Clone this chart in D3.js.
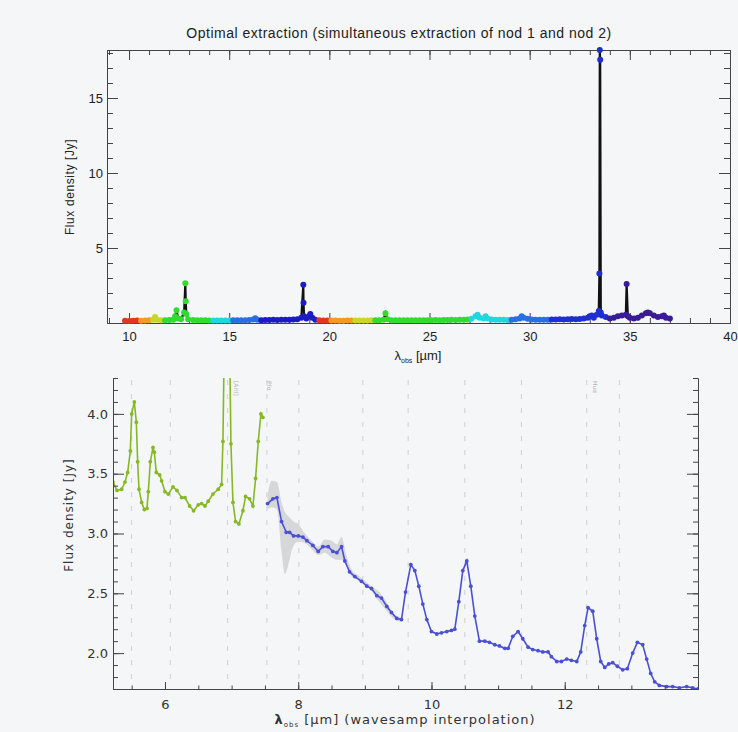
<!DOCTYPE html>
<html>
<head>
<meta charset="utf-8">
<script src="https://cdn.jsdelivr.net/npm/d3@7"></script>
<style>
  body { margin: 0; background: #f5f6f8; }
  svg { display: block; }
  .topax text { font-family: "Liberation Sans", Arial, sans-serif; font-size: 13px; fill: #222; }
  .botax text { font-family: "DejaVu Sans", sans-serif; font-size: 13px; fill: #333; }
  .ax path, .ax line { stroke: #444; stroke-width: 1; }
</style>
</head>
<body>
<svg id="chart"></svg>
<script>
// ---- top panel: high-res spectrum (order colours) ----
const topLam = [9.8, 10.0, 10.2, 10.4, 10.6, 10.8, 11.0, 11.2, 11.3, 11.4, 11.6, 11.8, 12.0, 12.2, 12.3, 12.37, 12.45, 12.6, 12.75, 12.81, 12.83, 12.86, 12.95, 13.2, 13.4, 13.6, 13.8, 14.0, 14.2, 14.4, 14.6, 14.8, 15.0, 15.2, 15.4, 15.6, 15.8, 16.0, 16.2, 16.3, 16.4, 16.6, 16.8, 17.0, 17.2, 17.4, 17.6, 17.8, 18.0, 18.2, 18.4, 18.6, 18.7, 18.71, 18.74, 18.85, 19.0, 19.05, 19.15, 19.3, 19.5, 19.7, 19.9, 20.1, 20.3, 20.5, 20.7, 20.9, 21.1, 21.3, 21.5, 21.7, 21.9, 22.1, 22.3, 22.5, 22.7, 22.8, 22.9, 23.1, 23.3, 23.5, 23.7, 23.9, 24.1, 24.3, 24.5, 24.7, 24.9, 25.1, 25.3, 25.5, 25.7, 25.9, 26.1, 26.3, 26.5, 26.7, 26.9, 27.1, 27.3, 27.4, 27.5, 27.7, 27.8, 27.9, 28.1, 28.3, 28.5, 28.7, 28.9, 29.1, 29.3, 29.5, 29.6, 29.7, 29.9, 30.1, 30.3, 30.5, 30.7, 30.9, 31.1, 31.3, 31.5, 31.7, 31.9, 32.1, 32.3, 32.5, 32.7, 32.9, 33.0, 33.1, 33.2, 33.35, 33.45, 33.48, 33.5, 33.52, 33.55, 33.6, 33.8, 34.0, 34.2, 34.4, 34.6, 34.8, 34.84, 34.9, 35.0, 35.2, 35.4, 35.6, 35.8, 35.9, 36.0, 36.2, 36.4, 36.6, 36.7, 36.8, 37.0];
const topFlux = [0.15, 0.14, 0.15, 0.16, 0.15, 0.17, 0.18, 0.22, 0.40, 0.22, 0.18, 0.19, 0.20, 0.22, 0.45, 0.85, 0.30, 0.25, 0.70, 2.65, 1.45, 0.60, 0.25, 0.20, 0.19, 0.18, 0.18, 0.17, 0.17, 0.16, 0.16, 0.17, 0.17, 0.18, 0.18, 0.19, 0.18, 0.20, 0.24, 0.32, 0.22, 0.19, 0.20, 0.20, 0.21, 0.20, 0.21, 0.22, 0.22, 0.23, 0.25, 0.35, 2.55, 1.35, 0.45, 0.30, 0.45, 0.60, 0.35, 0.22, 0.18, 0.17, 0.17, 0.16, 0.16, 0.15, 0.15, 0.16, 0.16, 0.16, 0.17, 0.17, 0.17, 0.18, 0.18, 0.19, 0.22, 0.65, 0.25, 0.19, 0.18, 0.18, 0.19, 0.18, 0.18, 0.18, 0.19, 0.19, 0.18, 0.19, 0.20, 0.19, 0.20, 0.20, 0.21, 0.20, 0.21, 0.22, 0.24, 0.28, 0.45, 0.55, 0.35, 0.30, 0.45, 0.30, 0.24, 0.22, 0.22, 0.21, 0.20, 0.22, 0.25, 0.30, 0.45, 0.35, 0.28, 0.24, 0.22, 0.22, 0.21, 0.22, 0.23, 0.24, 0.25, 0.24, 0.25, 0.26, 0.25, 0.27, 0.30, 0.35, 0.45, 0.50, 0.35, 0.55, 0.80, 3.30, 18.2, 17.55, 0.70, 0.50, 0.40, 0.30, 0.35, 0.45, 0.50, 0.55, 2.60, 0.45, 0.35, 0.30, 0.35, 0.50, 0.65, 0.70, 0.65, 0.50, 0.40, 0.45, 0.50, 0.35, 0.30];
const orderEdges = [9.7, 10.6, 11.1, 11.7, 14.2, 15.2, 16.6, 19.4, 20.1, 21.2, 22.2, 27.05, 29.0, 31.0, 33.9, 37.1];
const orderColors = ['#e2371f', '#f29a22', '#c9d62a', '#2fdc2f', '#22d6e0', '#2a6ee6', '#1c1cc4',
  '#e2371f', '#f29a22', '#c9d62a', '#2fdc2f', '#22d6e0', '#2a6ee6', '#1e2ed2', '#3a1a98'];

// ---- bottom panel: low-res spectrum ----
const greenLam = [5.22, 5.28, 5.35, 5.40, 5.44, 5.48, 5.50, 5.54, 5.57, 5.59, 5.61, 5.65, 5.69, 5.73, 5.75, 5.78, 5.82, 5.84, 5.87, 5.92, 5.95, 6.00, 6.05, 6.12, 6.18, 6.25, 6.30, 6.37, 6.43, 6.50, 6.55, 6.60, 6.65, 6.72, 6.80, 6.85, 6.87, 6.89, 6.93, 6.97, 6.99, 7.02, 7.06, 7.11, 7.17, 7.21, 7.27, 7.32, 7.36, 7.40, 7.44, 7.47];
const greenFlux = [3.43, 3.36, 3.37, 3.43, 3.51, 3.69, 4.00, 4.10, 3.93, 3.60, 3.37, 3.26, 3.20, 3.21, 3.35, 3.60, 3.72, 3.68, 3.51, 3.49, 3.44, 3.35, 3.33, 3.39, 3.36, 3.30, 3.30, 3.23, 3.19, 3.24, 3.25, 3.23, 3.27, 3.33, 3.37, 3.41, 3.77, 4.60, 5.20, 4.60, 3.75, 3.26, 3.10, 3.08, 3.19, 3.31, 3.29, 3.23, 3.46, 3.77, 4.00, 3.97];
const blueLam = [7.54, 7.62, 7.68, 7.75, 7.82, 7.87, 7.93, 8.00, 8.07, 8.13, 8.22, 8.30, 8.37, 8.45, 8.52, 8.58, 8.65, 8.70, 8.77, 8.85, 8.95, 9.03, 9.10, 9.18, 9.25, 9.33, 9.40, 9.48, 9.55, 9.61, 9.69, 9.75, 9.81, 9.87, 9.93, 10.00, 10.08, 10.15, 10.23, 10.30, 10.35, 10.41, 10.47, 10.53, 10.59, 10.65, 10.72, 10.80, 10.87, 10.95, 11.02, 11.10, 11.15, 11.22, 11.30, 11.37, 11.45, 11.52, 11.60, 11.67, 11.75, 11.80, 11.88, 11.95, 12.03, 12.10, 12.18, 12.24, 12.30, 12.35, 12.42, 12.48, 12.54, 12.60, 12.66, 12.72, 12.79, 12.87, 12.94, 13.02, 13.09, 13.17, 13.23, 13.29, 13.35, 13.42, 13.53, 13.62, 13.72, 13.83, 13.92, 14.00];
const blueFlux = [3.25, 3.29, 3.30, 3.10, 3.01, 3.01, 2.98, 2.98, 2.97, 2.94, 2.90, 2.85, 2.89, 2.89, 2.85, 2.84, 2.89, 2.77, 2.68, 2.64, 2.60, 2.56, 2.54, 2.48, 2.46, 2.39, 2.34, 2.29, 2.28, 2.51, 2.74, 2.69, 2.56, 2.41, 2.28, 2.18, 2.16, 2.17, 2.18, 2.19, 2.20, 2.43, 2.69, 2.77, 2.56, 2.31, 2.10, 2.10, 2.09, 2.07, 2.06, 2.04, 2.04, 2.14, 2.18, 2.12, 2.05, 2.03, 2.02, 2.01, 2.01, 1.97, 1.93, 1.93, 1.95, 1.94, 1.93, 2.01, 2.23, 2.38, 2.35, 2.12, 1.93, 1.88, 1.91, 1.92, 1.89, 1.86, 1.87, 2.00, 2.09, 2.07, 1.95, 1.83, 1.76, 1.73, 1.72, 1.72, 1.71, 1.72, 1.71, 1.70];
const bandLam = [7.54, 7.60, 7.68, 7.75, 7.80, 7.86, 7.93, 8.00, 8.10, 8.20, 8.30, 8.40, 8.50, 8.58, 8.65, 8.72, 8.80, 8.90, 9.10, 9.20, 9.30, 9.45, 9.55];
const bandLo = [3.20, 3.22, 3.20, 2.85, 2.66, 2.76, 2.90, 2.93, 2.92, 2.87, 2.82, 2.84, 2.80, 2.78, 2.78, 2.73, 2.64, 2.61, 2.52, 2.44, 2.37, 2.28, 2.26];
const bandHi = [3.32, 3.44, 3.43, 3.26, 3.18, 3.14, 3.10, 3.08, 3.00, 2.94, 2.89, 2.95, 2.94, 2.91, 2.97, 2.82, 2.70, 2.65, 2.56, 2.52, 2.45, 2.32, 2.30];
const featureLam = [5.50, 6.08, 6.94, 7.53, 8.01, 8.97, 9.65, 10.50, 11.35, 12.33, 12.82];

const width = 738, height = 732;
const svg = d3.select('#chart').attr('width', width).attr('height', height);

// ================= top panel =================
const xTop = d3.scaleLinear().domain([8.9, 40]).range([107, 730]);
const yTop = d3.scaleLinear().domain([0, 18.2]).range([323, 50]);

const topG = svg.append('g');

function addTicks(g, axisFn, scale, major, minor, bigLen, smallLen, labels) {
	g.append('g').attr('class', 'ax')
		.call(axisFn(scale).tickValues(minor).tickSize(-smallLen).tickSizeOuter(0).tickFormat(''));
	const a = g.append('g').attr('class', 'ax')
		.call(axisFn(scale).tickValues(major).tickSize(-bigLen).tickSizeOuter(0)
			.tickFormat(labels ? labels : ''));
	return a;
}

const topXMinor = d3.range(9, 41, 1), topXMajor = [10, 15, 20, 25, 30, 35, 40];
const topYMinor = d3.range(1, 19, 1), topYMajor = [5, 10, 15];

let g;
g = topG.append('g').attr('class', 'topax').attr('transform', 'translate(0,323)');
addTicks(g, d3.axisBottom, xTop, topXMajor, topXMinor, 10, 5, d3.format('d')).selectAll('text').attr('dy', '0.71em').attr('y', 9);
g = topG.append('g').attr('class', 'topax').attr('transform', 'translate(0,50)');
addTicks(g, d3.axisTop, xTop, topXMajor, topXMinor, 10, 5, null);
g = topG.append('g').attr('class', 'topax').attr('transform', 'translate(107,0)');
addTicks(g, d3.axisLeft, yTop, topYMajor, topYMinor, 11, 6, d3.format('d')).selectAll('text').attr('x', -4);
g = topG.append('g').attr('class', 'topax').attr('transform', 'translate(730,0)');
addTicks(g, d3.axisRight, yTop, topYMajor, topYMinor, 11, 6, null);

const topPts = topLam.map((l, i) => ({ l: l, f: topFlux[i] }));
function orderColor(l) {
	for (let k = 0; k < orderColors.length; k++) {
		if (l >= orderEdges[k] && l < orderEdges[k + 1]) return orderColors[k];
	}
	return orderColors[orderColors.length - 1];
}

topG.append('path')
	.datum(topPts)
	.attr('fill', 'none')
	.attr('stroke', '#111')
	.attr('stroke-width', 2.2)
	.attr('d', d3.line().x(d => xTop(d.l)).y(d => yTop(d.f)));

topG.selectAll('circle.tp').data(topPts).enter().append('circle')
	.attr('class', 'tp')
	.attr('cx', d => xTop(d.l))
	.attr('cy', d => yTop(d.f))
	.attr('r', 3)
	.attr('fill', d => orderColor(d.l));

topG.append('text')
	.attr('x', 399).attr('y', 38)
	.attr('text-anchor', 'middle')
	.style('font-family', '"Liberation Sans", Arial, sans-serif')
	.style('font-size', '14px').style('letter-spacing', '0.5px').style('fill', '#222')
	.text('Optimal extraction (simultaneous extraction of nod 1 and nod 2)');

topG.append('text')
	.attr('transform', 'translate(74,187) rotate(-90)')
	.attr('text-anchor', 'middle')
	.style('font-family', '"Liberation Sans", Arial, sans-serif')
	.style('font-size', '12px').style('letter-spacing', '0.6px').style('fill', '#222')
	.text('Flux density [Jy]');

const tl = topG.append('text')
	.attr('x', 418).attr('y', 360)
	.attr('text-anchor', 'middle')
	.style('font-family', '"Liberation Sans", Arial, sans-serif')
	.style('font-size', '13px').style('fill', '#222');
tl.append('tspan').text('λ');
tl.append('tspan').attr('dy', 3).style('font-size', '7px').text('obs');
tl.append('tspan').attr('dy', -3).text(' [µm]');

// ================= bottom panel =================
const xBot = d3.scaleLinear().domain([5.22, 14]).range([113, 698]);
const yBot = d3.scaleLinear().domain([1.7, 4.3]).range([689, 378]);

const botG = svg.append('g');

botG.append('clipPath').attr('id', 'clipB').append('rect')
	.attr('x', 113).attr('y', 378).attr('width', 585).attr('height', 311);

botG.selectAll('line.feat').data(featureLam).enter().append('line')
	.attr('class', 'feat')
	.attr('x1', d => xBot(d)).attr('x2', d => xBot(d))
	.attr('y1', 380).attr('y2', 688)
	.attr('stroke', '#cdd0d3').attr('stroke-width', 1)
	.attr('stroke-dasharray', '5,9');

// faint line labels near the top
const featLabelLam = [7.0, 7.5, 12.4];
const featLabels = ['[ArII]', 'Pfα', 'Huα'];
botG.selectAll('text.fl').data(featLabelLam).enter().append('text')
	.attr('class', 'fl')
	.attr('transform', d => 'translate(' + (xBot(d) + 2) + ',381) rotate(90)')
	.style('font-family', '"DejaVu Sans", sans-serif')
	.style('font-size', '6px').style('fill', '#b4b6b8')
	.text((d, i) => featLabels[i]);

const plot = botG.append('g').attr('clip-path', 'url(#clipB)');

const bandPts = bandLam.map((l, i) => ({ l: l, lo: bandLo[i], hi: bandHi[i] }));
plot.append('path')
	.datum(bandPts)
	.attr('fill', '#c4c6c8').attr('fill-opacity', 0.65)
	.attr('d', d3.area().curve(d3.curveMonotoneX)
		.x(d => xBot(d.l)).y0(d => yBot(d.lo)).y1(d => yBot(d.hi)));

function drawSeries(lam, flux, color) {
	const pts = lam.map((l, i) => ({ l: l, f: flux[i] }));
	plot.append('path')
		.datum(pts)
		.attr('fill', 'none')
		.attr('stroke', color)
		.attr('stroke-width', 1.6)
		.attr('d', d3.line().x(d => xBot(d.l)).y(d => yBot(d.f)));
	plot.selectAll(null).data(pts).enter().append('circle')
		.attr('cx', d => xBot(d.l))
		.attr('cy', d => yBot(d.f))
		.attr('r', 1.9)
		.attr('fill', color);
}
drawSeries(greenLam, greenFlux, '#86b824');
drawSeries(blueLam, blueFlux, '#4b4fd6');

const botXMinor = d3.range(5.5, 14.01, 0.5), botXMajor = [6, 8, 10, 12];
const botYMinor = d3.range(1.7, 4.31, 0.1).map(v => +v.toFixed(1)), botYMajor = [2.0, 2.5, 3.0, 3.5, 4.0];

g = botG.append('g').attr('class', 'botax').attr('transform', 'translate(0,689)');
addTicks(g, d3.axisBottom, xBot, botXMajor, botXMinor, 7, 3.5, d3.format('d')).selectAll('text').attr('dy', '0.71em').attr('y', 11);
g = botG.append('g').attr('class', 'botax').attr('transform', 'translate(113,0)');
addTicks(g, d3.axisLeft, yBot, botYMajor, botYMinor, 11, 5, d3.format('.1f')).selectAll('text').attr('x', -5);
g = botG.append('g').attr('class', 'botax').attr('transform', 'translate(698,0)');
addTicks(g, d3.axisRight, yBot, botYMajor, botYMinor, 11, 5, null);

botG.append('text')
	.attr('transform', 'translate(73,515) rotate(-90)')
	.attr('text-anchor', 'middle')
	.style('font-family', '"DejaVu Sans", sans-serif')
	.style('font-size', '12px').style('letter-spacing', '1px').style('fill', '#333')
	.text('Flux density [Jy]');

const bl = botG.append('text')
	.attr('x', 405).attr('y', 724)
	.attr('text-anchor', 'middle')
	.style('font-family', '"DejaVu Sans", sans-serif')
	.style('font-size', '13px').style('letter-spacing', '1px').style('fill', '#333');
bl.append('tspan').style('font-weight', 'bold').text('λ');
bl.append('tspan').attr('dy', 3).style('font-size', '7px').text('obs');
bl.append('tspan').attr('dy', -3).text(' [µm] (wavesamp interpolation)');
</script>
</body>
</html>
